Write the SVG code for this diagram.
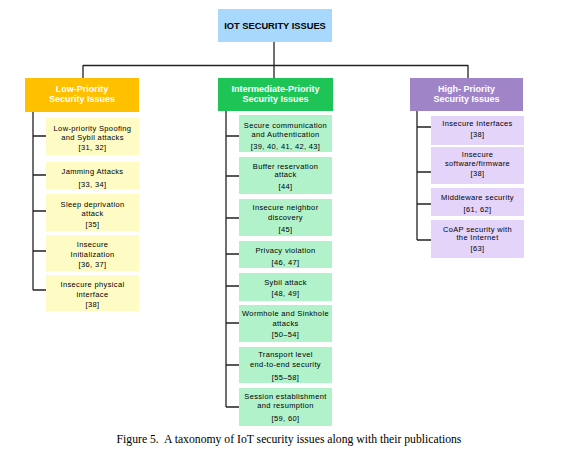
<svg xmlns="http://www.w3.org/2000/svg" width="563" height="453" viewBox="0 0 563 453">
<style>
.t{font-family:"Liberation Sans",Arial,sans-serif;font-size:7.5px;letter-spacing:0.35px;fill:#000;text-anchor:middle}
.h{font-family:"Liberation Sans",Arial,sans-serif;font-size:9px;font-weight:bold;fill:#fff;text-anchor:middle}
.r{font-family:"Liberation Sans",Arial,sans-serif;font-size:9.3px;font-weight:bold;fill:#000;text-anchor:middle}
.cap{font-family:"Liberation Serif","Times New Roman",serif;font-size:11.7px;fill:#000;text-anchor:middle}
.c{stroke:#222;stroke-width:1.3;fill:none}
.ly{fill:#FFFBC4}.lg{fill:#B2F2CA}.lp{fill:#E4D4FA}
</style>
<rect width="563" height="453" fill="#fff"/>
<g id="connectors">
<path class="c" d="M274 42V78M83 65.5H468M83 65V79M468 65V78"/>
<path class="c" d="M33 112V290M33 136H46M33 175H46M33 211H46M33 251H46M33 290H46"/>
<path class="c" d="M226 111V407M226 136H239M226 176H239M226 218H239M226 254H239M226 286H239M226 323H239M226 365H239M226 407H239"/>
<path class="c" d="M417 111V240M417 127H431M417 172H431M417 204H431M417 240H431"/>
</g>
<g id="root"><rect x="218" y="9" width="114" height="33" fill="#A8D8FB"/><text class="r" x="275" y="28.5">IOT SECURITY ISSUES</text></g>
<g id="low"><rect x="25" y="78" width="114" height="34" fill="#FFC000"/><text class="h" x="82" y="92">Low-Priority</text><text class="h" x="82" y="102">Security Issues</text></g>
<g id="mid"><rect x="218" y="78" width="115" height="33" fill="#1EC456"/><text class="h" x="275.5" y="92">Intermediate-Priority</text><text class="h" x="275.5" y="102">Security Issues</text></g>
<g id="high"><rect x="410" y="78" width="113" height="33" fill="#A084C8"/><text class="h" x="466.5" y="92">High- Priority</text><text class="h" x="466.5" y="102">Security Issues</text></g>

<g id="l1"><rect class="ly" x="46" y="118" width="93" height="37"/><text class="t" x="92.5" y="131">Low-priority Spoofing</text><text class="t" x="92.5" y="140">and Sybil attacks</text><text class="t" x="92.5" y="150">[31, 32]</text></g>
<g id="l2"><rect class="ly" x="46" y="162" width="93" height="27"/><text class="t" x="92.5" y="174">Jamming Attacks</text><text class="t" x="92.5" y="187">[33, 34]</text></g>
<g id="l3"><rect class="ly" x="46" y="194" width="93" height="37"/><text class="t" x="92.5" y="207">Sleep deprivation</text><text class="t" x="92.5" y="216">attack</text><text class="t" x="92.5" y="227">[35]</text></g>
<g id="l4"><rect class="ly" x="46" y="235" width="93" height="36"/><text class="t" x="92.5" y="247">Insecure</text><text class="t" x="92.5" y="257">Initialization</text><text class="t" x="92.5" y="267">[36, 37]</text></g>
<g id="l5"><rect class="ly" x="46" y="275" width="93" height="36"/><text class="t" x="92.5" y="287">Insecure physical</text><text class="t" x="92.5" y="297">interface</text><text class="t" x="92.5" y="307">[38]</text></g>

<g id="m1"><rect class="lg" x="239" y="115" width="93" height="37"/><text class="t" x="285.5" y="128">Secure communication</text><text class="t" x="285.5" y="137">and Authentication</text><text class="t" x="285.5" y="149">[39, 40, 41, 42, 43]</text></g>
<g id="m2"><rect class="lg" x="239" y="157" width="93" height="37"/><text class="t" x="285.5" y="169">Buffer reservation</text><text class="t" x="285.5" y="177">attack</text><text class="t" x="285.5" y="189">[44]</text></g>
<g id="m3"><rect class="lg" x="239" y="199" width="93" height="37"/><text class="t" x="285.5" y="210">Insecure neighbor</text><text class="t" x="285.5" y="220">discovery</text><text class="t" x="285.5" y="232">[45]</text></g>
<g id="m4"><rect class="lg" x="239" y="241" width="93" height="27"/><text class="t" x="285.5" y="253">Privacy violation</text><text class="t" x="285.5" y="265">[46, 47]</text></g>
<g id="m5"><rect class="lg" x="239" y="273" width="93" height="28"/><text class="t" x="285.5" y="285">Sybil attack</text><text class="t" x="285.5" y="296">[48, 49]</text></g>
<g id="m6"><rect class="lg" x="239" y="305" width="93" height="37"/><text class="t" x="285.5" y="316">Wormhole and Sinkhole</text><text class="t" x="285.5" y="326">attacks</text><text class="t" x="285.5" y="337">[50–54]</text></g>
<g id="m7"><rect class="lg" x="239" y="347" width="93" height="36"/><text class="t" x="285.5" y="357">Transport level</text><text class="t" x="285.5" y="367">end-to-end security</text><text class="t" x="285.5" y="380">[55–58]</text></g>
<g id="m8"><rect class="lg" x="239" y="388" width="93" height="38"/><text class="t" x="285.5" y="399">Session establishment</text><text class="t" x="285.5" y="408">and resumption</text><text class="t" x="285.5" y="421">[59, 60]</text></g>

<g id="h1"><rect class="lp" x="431" y="116" width="93" height="29"/><text class="t" x="477.5" y="126">Insecure Interfaces</text><text class="t" x="477.5" y="137">[38]</text></g>
<g id="h2"><rect class="lp" x="431" y="147" width="93" height="37"/><text class="t" x="477.5" y="157">Insecure</text><text class="t" x="477.5" y="166">software/firmware</text><text class="t" x="477.5" y="176">[38]</text></g>
<g id="h3"><rect class="lp" x="431" y="188" width="93" height="28"/><text class="t" x="477.5" y="200">Middleware security</text><text class="t" x="477.5" y="212">[61, 62]</text></g>
<g id="h4"><rect class="lp" x="431" y="220" width="93" height="38"/><text class="t" x="477.5" y="232">CoAP security with</text><text class="t" x="477.5" y="240">the Internet</text><text class="t" x="477.5" y="251">[63]</text></g>

<text class="cap" x="289" y="443" xml:space="preserve">Figure 5.  A taxonomy of IoT security issues along with their publications</text>
</svg>
